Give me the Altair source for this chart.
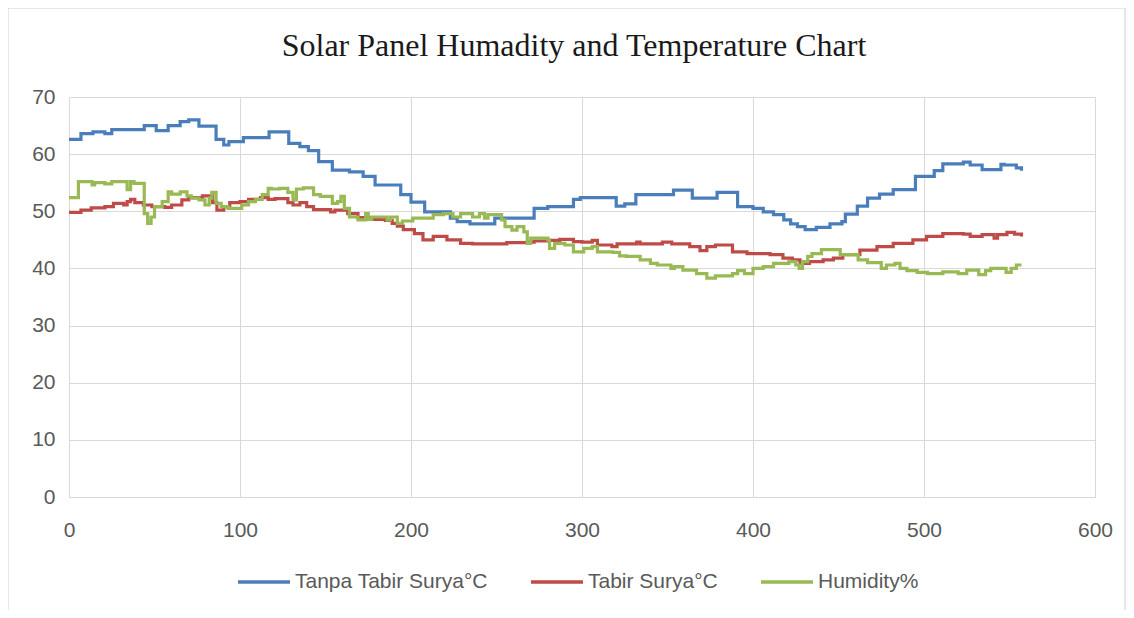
import altair as alt
import pandas as pd

chart_title = "Solar Panel Humadity and Temperature Chart"
series_names = ["Tanpa Tabir Surya°C", "Tabir Surya°C", "Humidity%"]
series_colors = ["#4A7EBB", "#BE4B48", "#98B954"]

x_ticks = [0, 100, 200, 300, 400, 500, 600]
y_ticks = [0, 10, 20, 30, 40, 50, 60, 70]

blue_x = [0, 7, 14, 21, 25, 44, 51, 58, 65, 70, 76, 86, 90.5, 93.5, 102, 117, 128.5, 135, 140, 146,
          154, 164, 172, 179, 194, 200, 208, 223, 227, 234.5, 249, 272, 280, 295, 299, 320, 325, 331.5, 353.5, 364.5,
          379, 391, 400, 406, 412, 418, 422, 426, 430.5, 437, 445, 452, 454, 461, 467, 474, 482, 495, 506, 511,
          523, 527, 534, 545, 547, 554, 557]
blue_y = [62.6, 63.6, 63.9, 63.6, 64.3, 65.0, 64.1, 65.0, 65.7, 66.0, 64.9, 62.6, 61.6, 62.2, 62.9, 63.9, 61.9, 61.3, 60.6, 58.7,
          57.2, 56.9, 56.1, 54.6, 52.9, 51.6, 49.9, 48.8, 48.2, 47.8, 48.8, 50.5, 50.8, 52.1, 52.4, 50.9, 51.3, 52.9, 53.7, 52.3,
          53.3, 50.8, 50.5, 49.9, 49.4, 48.5, 47.8, 47.3, 46.8, 47.2, 47.8, 48.2, 49.5, 50.9, 52.3, 53.0, 53.8, 56.1, 57.1, 58.3,
          58.6, 58.1, 57.3, 58.2, 58.1, 57.6, 57.1]

red_x = [0, 7, 13, 21, 26, 32, 34, 36, 38.5, 43.5, 48.5, 56, 60, 66, 70, 78, 84, 86.5, 90.5, 94,
         100, 105, 112, 116.5, 120.5, 128, 131, 135, 139, 143, 153, 155.5, 163, 169, 177, 185, 189, 192, 195.5, 202,
         207, 213, 221, 229, 236, 256, 268, 272, 280, 287, 295, 300, 306, 309, 317.5, 320.5, 332, 334, 347, 352.5,
         363, 369, 373, 378, 388, 396.5, 410, 417.5, 423, 427.5, 433, 441, 447, 452.5, 462.5, 472.5, 482, 493.5, 501.5, 511,
         523, 527, 534, 541, 543, 548.5, 553, 557]
red_y = [49.8, 50.2, 50.6, 50.8, 51.4, 51.1, 51.7, 52.1, 51.5, 51.1, 50.8, 50.7, 51.1, 52.0, 52.4, 52.7, 51.5, 50.2, 50.8, 51.5,
         51.7, 52.1, 52.4, 52.1, 52.2, 51.5, 51.1, 51.5, 50.8, 50.3, 49.9, 50.2, 49.6, 48.9, 48.6, 48.4, 47.9, 47.4, 46.8, 46.1,
         45.0, 45.6, 45.0, 44.4, 44.3, 44.5, 44.6, 44.8, 44.9, 45.1, 44.7, 44.6, 44.9, 44.1, 43.8, 44.3, 44.6, 44.3, 44.6, 44.3,
         43.8, 43.1, 43.8, 44.1, 42.9, 42.6, 42.4, 41.8, 41.5, 40.9, 41.2, 41.5, 41.8, 42.4, 43.2, 43.8, 44.4, 45.0, 45.6, 46.1,
         46.0, 45.6, 45.9, 45.3, 45.9, 46.3, 46.0, 45.6]

green_x = [0, 5.5, 13.5, 15, 21, 25, 34, 36, 38, 44, 46, 48, 50, 54.5, 58, 60, 65, 69, 71.5, 76,
           79.5, 82, 83.5, 86, 89, 93, 101, 105, 109, 113, 116.5, 118.5, 123, 128, 131, 133, 137, 143, 147, 154,
           157, 159, 161, 164, 169, 173.5, 175, 177, 186, 188, 192, 195, 201, 213, 219, 224.5, 229, 236, 240, 243,
           245, 253, 255, 259, 262, 266, 268, 270, 280, 281, 284, 290, 295, 301, 306, 309, 318, 322, 326, 334,
           340, 344, 352, 354, 359, 367, 373, 378, 388, 391, 395, 400, 406, 412, 421, 425, 427, 429, 432, 434.5,
           440, 451, 461.5, 467, 475, 478, 483, 486, 490, 496, 502, 511, 520, 525, 532, 536, 539, 548, 551, 554,
           557]
green_y = [52.4, 55.2, 54.6, 55.0, 54.8, 55.2, 53.8, 55.2, 54.9, 49.6, 47.9, 49.0, 50.8, 51.7, 53.4, 53.0, 53.4, 52.7, 52.3, 52.0,
           51.1, 52.3, 53.3, 51.4, 50.8, 50.5, 51.1, 51.7, 52.1, 52.9, 54.0, 53.9, 54.0, 53.3, 52.0, 53.9, 54.1, 52.9, 52.6, 51.4,
           51.7, 52.6, 50.5, 49.0, 48.5, 49.6, 48.6, 49.0, 48.5, 49.0, 47.9, 48.3, 48.8, 49.4, 49.6, 49.0, 49.6, 49.0, 49.6, 48.8,
           49.4, 48.5, 47.3, 46.7, 47.3, 46.4, 44.4, 45.3, 45.0, 43.5, 44.4, 44.1, 42.9, 43.5, 43.8, 42.9, 42.8, 42.2, 42.1, 41.5,
           40.9, 40.6, 40.0, 40.3, 39.7, 39.1, 38.3, 38.7, 39.1, 39.6, 39.1, 40.0, 40.3, 40.9, 41.2, 40.6, 40.0, 41.2, 42.1, 42.6,
           43.3, 42.4, 41.5, 41.0, 40.0, 40.6, 40.9, 40.0, 39.6, 39.3, 39.1, 39.4, 39.1, 39.7, 38.9, 39.6, 40.0, 39.3, 40.0, 40.6,
           40.6]

rows = []
for name, xs, ys in zip(series_names, [blue_x, red_x, green_x], [blue_y, red_y, green_y]):
    assert len(xs) == len(ys), name
    for i, (a, b) in enumerate(zip(xs, ys)):
        rows.append({"x": a, "v": b, "series": name, "idx": i})
df = pd.DataFrame(rows)

label_font = "Liberation Sans"
label_color = "#595959"
grid_color = "#D9D9D9"

one = pd.DataFrame({"t": [chart_title]})

border = alt.Chart(one).mark_rect(
    filled=False, stroke="#D0D0D0", strokeWidth=1
).encode(
    x=alt.value(-61), x2=alt.value(1056), y=alt.value(-89), y2=alt.value(540)
)

title_mark = alt.Chart(one).mark_text(
    font="Liberation Serif", fontSize=32, color="#1a1a1a", align="center", baseline="middle"
).encode(
    text="t:N", x=alt.value(505), y=alt.value(-51)
)

lines = alt.Chart(df).mark_line(interpolate="step-after", strokeWidth=3.2).encode(
    x=alt.X("x:Q", scale=alt.Scale(domain=[0, 600], nice=False, zero=False),
            axis=alt.Axis(values=x_ticks, title=None, grid=True, gridColor=grid_color,
                          domainColor=grid_color, ticks=False, labelPadding=22, labelFlush=False,
                          labelFont=label_font, labelFontSize=21, labelColor=label_color)),
    y=alt.Y("v:Q", scale=alt.Scale(domain=[0, 70], nice=False),
            axis=alt.Axis(values=y_ticks, title=None, grid=True, gridColor=grid_color,
                          domain=False, ticks=False, labelPadding=14,
                          labelFont=label_font, labelFontSize=21, labelColor=label_color)),
    color=alt.Color("series:N", sort=series_names,
                    scale=alt.Scale(domain=series_names, range=series_colors),
                    legend=alt.Legend(title=None, orient="none", direction="horizontal",
                                      legendX=167, legendY=457, padding=0,
                                      symbolType="stroke", symbolSize=2704, symbolStrokeWidth=3.5,
                                      labelFont=label_font, labelFontSize=21, labelColor=label_color,
                                      labelOffset=3, columnPadding=36, labelLimit=400)),
    order="idx:Q",
)

chart = alt.layer(border, title_mark, lines).properties(
    width=1026, height=400,
    autosize=alt.AutoSizeParams(type="none"),
    padding={"left": 61, "top": 89, "right": 31, "bottom": 113},
).configure_view(stroke=None)

chart.save("out.html", embed_options={"renderer": "svg", "actions": False})
